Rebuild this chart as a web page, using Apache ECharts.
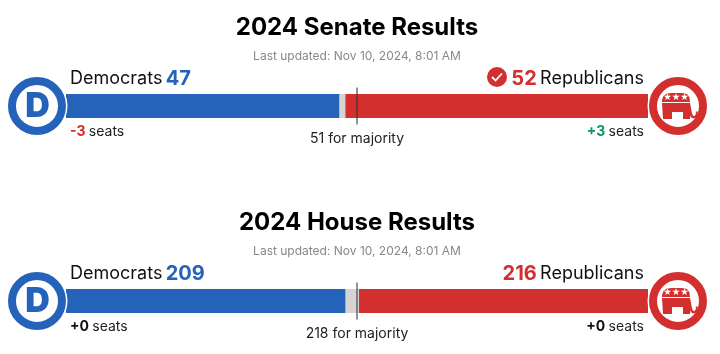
<!DOCTYPE html>
<html>
<head>
<meta charset="utf-8">
<style>
  html, body { margin: 0; padding: 0; background: #fff; }
  #chart { width: 720px; height: 354px; }
</style>
<script src="https://cdn.jsdelivr.net/npm/echarts@6/dist/echarts.min.js"></script>
</head>
<body>
<div id="chart"></div>
<script>
// 数据
const raceNames = ['2024 Senate Results', '2024 House Results'];
const updatedText = 'Last updated: Nov 10, 2024, 8:01 AM';
const demSeats = [47, 209];
const otherSeats = [1, 10];
const repSeats = [52, 216];
const totalSeats = [100, 435];
const majorityLine = [50, 217.5];
const majorityLabels = ['51 for majority', '218 for majority'];
const demChange = ['-3', '+0'];
const repChange = ['+3', '+0'];
const winnerCheck = [true, false];

const BLUE = '#2563bb';
const RED = '#d32f2f';
const GREY = '#d6d3d1';
const FONT = 'Inter';
const TOPS = [87.5, 282.5];   // 每个面板 grid 的顶部

// 大象标志的轮廓（相对圆心）
const elephantTop = [[-16, -4], [-16, -6], [-14.5, -10], [-11, -12.5], [-6, -13], [4, -13], [9, -12], [11.5, -8.5], [12, -4]];
const elephantBottom = [[-16, -3], [12, -3], [13.2, 3], [14, 7.5], [15, 9.8], [16.5, 10], [17.8, 8.5], [17.8, 5.5], [19.6, 5.5], [19.8, 9], [18.5, 11.5], [16, 12.5], [13.8, 12], [12.5, 9.5], [12, 13], [5, 13], [5, 6], [-6, 6], [-6, 13], [-15, 13]];

const chart = echarts.init(document.getElementById('chart'));

const changeColor = v => v[0] === '-' ? '#dc2626' : (v[0] === '+' && v !== '+0' ? '#059669' : '#111');

// 民主党 / 共和党 标志
function demLogo(cy) {
    return {
        type: 'group', x: 37, y: cy,
        children: [
            { type: 'circle', z: 10, shape: { r: 30.5 }, style: { fill: '#fff' } },
            { type: 'circle', z: 11, shape: { r: 25 }, style: { fill: '#fff', stroke: BLUE, lineWidth: 8 } },
            { type: 'text', z: 12, style: { text: 'D', x: 0.5, y: 0.5, align: 'center', verticalAlign: 'middle', fill: BLUE, font: `900 34px ${FONT}` } }
        ]
    };
}

function repLogo(cy) {
    return {
        type: 'group', x: 678, y: cy,
        children: [
            { type: 'circle', z: 10, shape: { r: 30.5 }, style: { fill: '#fff' } },
            { type: 'circle', z: 11, shape: { r: 25 }, style: { fill: '#fff', stroke: RED, lineWidth: 8 } },
            { type: 'polygon', z: 12, shape: { points: elephantTop }, style: { fill: RED } },
            { type: 'polygon', z: 12, shape: { points: elephantBottom }, style: { fill: RED } },
            { type: 'text', z: 13, style: { text: '★★★', x: -2, y: -8.5, align: 'center', verticalAlign: 'middle', fill: '#fff', font: '9.5px "DejaVu Sans"' } }
        ]
    };
}

function checkIcon(cy) {
    return {
        type: 'group', x: 497, y: cy,
        children: [
            { type: 'circle', z: 10, shape: { r: 10 }, style: { fill: RED } },
            { type: 'polyline', z: 11, shape: { points: [[-5, 0], [-1.5, 3.5], [5, -3.5]] }, style: { fill: 'none', stroke: '#fff', lineWidth: 1.8 } }
        ]
    };
}

const rich = {
    name: { font: `400 18px ${FONT}`, fill: '#111' },
    dem: { font: `700 20px ${FONT}`, fill: BLUE },
    rep: { font: `700 20px ${FONT}`, fill: RED },
    seats: { font: `400 14px ${FONT}`, fill: '#222' }
};

function panelGraphics(i) {
    const top = TOPS[i];
    const cy = top + 18.5;
    const els = [
        demLogo(cy), repLogo(cy),
        { type: 'text', style: { x: 70, y: top - 9, verticalAlign: 'middle', rich, text: `{name|Democrats} {dem|${demSeats[i]}}` } },
        { type: 'text', style: { x: 644, y: top - 9, align: 'right', verticalAlign: 'middle', rich, text: `{rep|${repSeats[i]}} {name|Republicans}` } },
        { type: 'text', style: { x: 70, y: top + 44.5, verticalAlign: 'middle', rich: { ...rich, c: { font: `700 14px ${FONT}`, fill: changeColor(demChange[i]) } }, text: `{c|${demChange[i]}} {seats|seats}` } },
        { type: 'text', style: { x: 644, y: top + 44.5, align: 'right', verticalAlign: 'middle', rich: { ...rich, c: { font: `700 14px ${FONT}`, fill: changeColor(repChange[i]) } }, text: `{c|${repChange[i]}} {seats|seats}` } }
    ];
    if (winnerCheck[i]) els.push(checkIcon(top - 10.5));
    return els;
}

const series = [];
raceNames.forEach((_, i) => {
    const base = { type: 'bar', stack: 'seats' + i, xAxisIndex: i, yAxisIndex: i, barWidth: 24, animation: false, silent: true };
    series.push({ ...base, name: 'Democrats', data: [demSeats[i]], itemStyle: { color: BLUE } });
    series.push({ ...base, name: 'Other', data: [otherSeats[i]], itemStyle: { color: GREY } });
    series.push({
        ...base, name: 'Republicans', data: [repSeats[i]], itemStyle: { color: RED },
        markLine: {
            silent: true, symbol: 'none', animation: false,
            lineStyle: { color: 'rgba(50,50,50,0.7)', type: 'solid', width: 1.5 },
            label: { position: 'start', distance: 7, formatter: majorityLabels[i], color: '#222', fontFamily: FONT, fontSize: 14 },
            data: [{ xAxis: majorityLine[i] }]
        }
    });
});

chart.setOption({
    animation: false,
    textStyle: { fontFamily: FONT },
    title: raceNames.map((t, i) => ({
        text: t, subtext: updatedText, left: 357, top: TOPS[i] - 72, textAlign: 'center', itemGap: 11, padding: 0,
        textStyle: { fontFamily: FONT, fontWeight: 700, fontSize: 24, color: '#000' },
        subtextStyle: { fontFamily: FONT, fontSize: 12, color: '#888' }
    })),
    grid: TOPS.map(top => ({ left: 66, width: 582, top, height: 37 })),
    xAxis: totalSeats.map((max, i) => ({ type: 'value', gridIndex: i, min: 0, max, show: false })),
    yAxis: raceNames.map((t, i) => ({ type: 'category', gridIndex: i, data: [t], show: false })),
    series,
    graphic: raceNames.flatMap((_, i) => panelGraphics(i))
});

window.addEventListener('resize', () => chart.resize());
</script>
</body>
</html>
